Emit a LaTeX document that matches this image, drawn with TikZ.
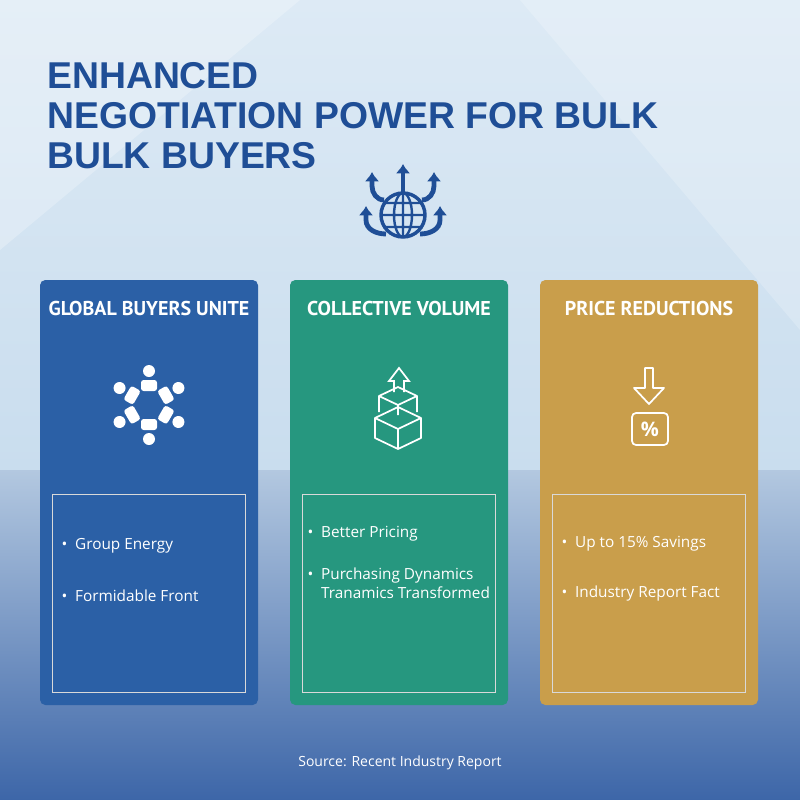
\documentclass[tikz,border=0pt]{standalone}
\usepackage{fontspec}
\setmainfont{Open Sans}
\newfontfamily\titlefont{Liberation Sans}
\newfontfamily\headfont{PT Sans}
\usetikzlibrary{positioning, arrows.meta}
\definecolor{navy}{HTML}{1F4E96}
\definecolor{skytop}{HTML}{DDEAF5}
\definecolor{skymid}{HTML}{C9DDEE}
\definecolor{seatop}{HTML}{B3C8E0}
\definecolor{seabot}{HTML}{3D66A8}
\definecolor{cardblue}{HTML}{2B60A6}
\definecolor{cardgreen}{HTML}{26977F}
\definecolor{cardgold}{HTML}{C99E4B}
\begin{document}
\begin{tikzpicture}[%
  x = 0.75pt, y = -0.75pt,
  card/.style = {rounded corners = 4pt},
  inner/.style = {draw = white!85!black, line width = 0.6pt},
  head/.style = {text = white, font = \headfont\bfseries\fontsize{15}{17}\selectfont},
  item/.style = {text = white, anchor = west, align = left,
                 font = \fontsize{11.5}{14}\selectfont},
  ico/.style = {draw = white, line width = 1.3pt},
  arr/.style = {navy, line width = 3.6pt, -{Latex[length = 7pt, width = 11pt]}}]
  % background
  \useasboundingbox (0, 0) rectangle (800, 800);
  \shade[top color = skytop, bottom color = skymid] (0, 0) rectangle (800, 470);
  \shade[top color = seatop, bottom color = seabot] (0, 470) rectangle (800, 800);
  \fill[white, opacity = 0.25] (0, 0) -- (300, 0) -- (0, 250) -- cycle;
  \fill[white, opacity = 0.2] (520, 0) -- (800, 0) -- (800, 330) -- cycle;

  % title
  \node[anchor = north west, align = left, text = navy, inner sep = 0pt,
        font = \titlefont\bfseries\fontsize{28}{30}\selectfont] (title) at (47, 62)
    {ENHANCED\\NEGOTIATION POWER FOR BULK\\BULK BUYERS};

  % globe icon
  \coordinate (globe) at (403, 215);
  \draw[navy, line width = 2.6pt] (globe) circle (22);
  \draw[navy, line width = 1.8pt] (globe) ellipse (9 and 22)
    (403, 193) -- (403, 237) (381, 215) -- (425, 215)
    (384, 203) -- (422, 203) (384, 227) -- (422, 227);
  \draw[arr] (403, 192) -- (403, 164);
  \draw[arr] (384, 200) to[out = 180, in = -90] (372, 186) -- (372, 172);
  \draw[arr] (422, 200) to[out = 0, in = -90] (434, 186) -- (434, 172);
  \draw[arr] (386, 234) to[out = 180, in = -90] (366, 220) -- (366, 206);
  \draw[arr] (420, 234) to[out = 0, in = -90] (440, 220) -- (440, 206);

  % cards
  \foreach \cx/\col in {40/cardblue, 290/cardgreen, 540/cardgold} {
    \fill[card, \col] (\cx, 280) rectangle ++(218, 425);
    \draw[inner] (\cx + 12, 494) rectangle ++(193, 198);
  }
  \node[head] (h1) at (149, 308) {GLOBAL BUYERS UNITE};
  \node[head] (h2) at (399, 308) {COLLECTIVE VOLUME};
  \node[head] (h3) at (649, 308) {PRICE REDUCTIONS};

  % people icon
  \foreach \a in {90, 150, 210, 270, 330, 30} {
    \fill[white] (149, 405) ++(\a:34) circle (6);
    \fill[white, rounded corners = 2pt, shift = {(149, 405)}, rotate = \a]
      (14, -8) rectangle (25, 8);
  }

  % boxes icon
  \draw[ico, line join = round] (375, 418) -- (398, 407) -- (421, 418) -- (398, 429) -- cycle
    (375, 418) -- (375, 438) -- (398, 449) -- (421, 438) -- (421, 418) (398, 429) -- (398, 449)
    (379, 396) -- (398, 387) -- (417, 396) -- (398, 405) -- cycle
    (379, 396) -- (379, 412) (417, 396) -- (417, 412) (398, 405) -- (398, 415);
  \draw[ico] (394, 392) -- (394, 381) -- (389, 381) -- (399, 368) -- (409, 381)
    -- (404, 381) -- (404, 392);

  % price icon
  \draw[ico, line join = round]
    (645, 368) -- (653, 368) -- (653, 388) -- (664, 388) -- (649, 404)
    -- (634, 388) -- (645, 388) -- cycle;
  \draw[ico, rounded corners = 3pt] (632, 413) rectangle (668, 445);
  \node[text = white, font = \bfseries\fontsize{15}{15}\selectfont] (pct) at (650, 429) {\%};

  % items
  \node[item] (i1) at (57, 546) {\textbullet\enspace Group Energy};
  \node[item] (i2) at (57, 596) {\textbullet\enspace Formidable Front};
  \node[item] (i3) at (303, 534) {\textbullet\enspace Better Pricing};
  \node[item] (i4) at (303, 583) {\textbullet\enspace Purchasing Dynamics\\\phantom{\textbullet\enspace}Tranamics Transformed};
  \node[item] (i5) at (557, 544) {\textbullet\enspace Up to 15\% Savings};
  \node[item] (i6) at (557, 594) {\textbullet\enspace Industry Report Fact};

  % source
  \node[text = white, font = \fontsize{10.5}{12}\selectfont] (src) at (400, 763)
    {Source: Recent Industry Report};
\end{tikzpicture}
\end{document}
